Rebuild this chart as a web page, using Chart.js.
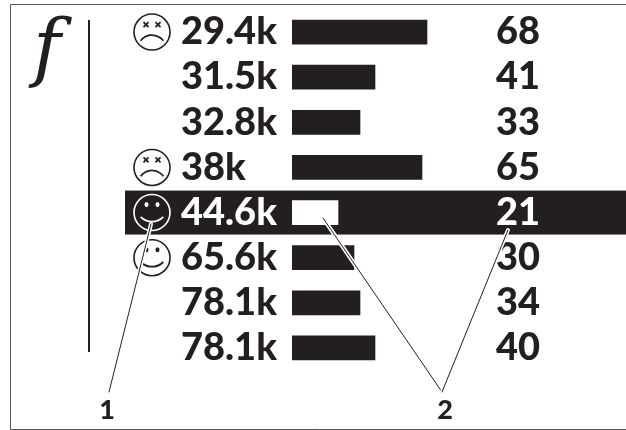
<!DOCTYPE html>
<html>
<head>
<meta charset="utf-8">
<style>
html, body { margin: 0; padding: 0; background: #fff; }
#wrap { position: relative; width: 626px; height: 430px; }
canvas { display: block; }
</style>
<script src="https://cdn.jsdelivr.net/npm/chart.js@4"></script>
</head>
<body>
<div id="wrap"><canvas id="mycanvas" width="626" height="430"></canvas></div>
<script>
var sizes = ['29.4k', '31.5k', '32.8k', '38k', '44.6k', '65.6k', '78.1k', '78.1k'];
var scores = ['68', '41', '33', '65', '21', '30', '34', '40'];
// bar lengths, they are a bit off the printed scores
var bars = [67.5, 41.5, 34, 65, 23, 31, 34, 41.5];
var faces = ['sad', '', '', 'sad', 'happy', 'happy', '', ''];
var selected = 4;
var ink = '#231f20';
var font = 'Lato, sans-serif';

function face(ctx, kind, x, y, light) {
	var fg = light ? '#fff' : ink;
	ctx.save();
	ctx.strokeStyle = fg;
	ctx.fillStyle = fg;
	ctx.lineWidth = 1.6;
	ctx.beginPath();
	ctx.arc(x, y, 18, 0, Math.PI * 2);
	ctx.stroke();
	if (kind === 'sad') {
		ctx.lineWidth = 1.8;
		[-6, 6].forEach(function (dx) {
			ctx.beginPath();
			ctx.moveTo(x + dx - 2.5, y - 10);
			ctx.lineTo(x + dx + 2.5, y - 5);
			ctx.moveTo(x + dx + 2.5, y - 10);
			ctx.lineTo(x + dx - 2.5, y - 5);
			ctx.stroke();
		});
		ctx.lineWidth = 1.8;
		ctx.beginPath();
		ctx.arc(x, y + 17, 14, Math.PI * 1.2, Math.PI * 1.8);
		ctx.stroke();
	} else {
		[-5.5, 5.5].forEach(function (dx) {
			ctx.beginPath();
			ctx.ellipse(x + dx, y - 8, 2, 2.5, 0, 0, Math.PI * 2);
			ctx.fill();
		});
		ctx.lineWidth = 1.8;
		ctx.beginPath();
		ctx.arc(x, y - 7, 16, Math.PI * 0.25, Math.PI * 0.75);
		ctx.stroke();
	}
	ctx.restore();
}

function leader(ctx, x1, y1, x2, y2) {
	ctx.save();
	ctx.lineCap = 'round';
	ctx.strokeStyle = '#fff';
	ctx.lineWidth = 4;
	ctx.beginPath();
	ctx.moveTo(x1, y1);
	ctx.lineTo(x2, y2);
	ctx.stroke();
	ctx.strokeStyle = ink;
	ctx.lineWidth = 1;
	ctx.beginPath();
	ctx.moveTo(x1, y1);
	ctx.lineTo(x2, y2);
	ctx.stroke();
	ctx.restore();
}

var rowBand = {
	id: 'rowBand',
	beforeDraw: function (chart) {
		var c = chart.ctx;
		var mid = chart.scales.y.getPixelForValue(selected);
		c.save();
		c.fillStyle = ink;
		c.fillRect(125, mid - 22, chart.width - 125, 44);
		c.restore();
	}
};

var extras = {
	id: 'extras',
	afterDraw: function (chart) {
		var c = chart.ctx;
		var y = chart.scales.y;
		c.save();
		// frame
		c.strokeStyle = '#555';
		c.lineWidth = 1;
		c.beginPath();
		c.moveTo(chart.width, 4.5);
		c.lineTo(10.5, 4.5);
		c.lineTo(10.5, 429.5);
		c.lineTo(chart.width, 429.5);
		c.stroke();
		// f and rule
		c.fillStyle = ink;
		c.fillRect(88, 20, 2, 332);
		c.font = '75px "DejaVu Math TeX Gyre", "DejaVu Serif"';
		c.textAlign = 'left';
		c.textBaseline = 'alphabetic';
		c.fillText('\uD835\uDC53', 22.5, 72);
		faces.forEach(function (kind, i) {
			if (kind) face(c, kind, 152, y.getPixelForValue(i), i === selected);
		});
		leader(c, 109, 392, 151, 224);
		leader(c, 442, 392, 323, 218);
		leader(c, 442, 392, 508, 230);
		c.fillStyle = ink;
		c.font = '900 27px ' + font;
		c.textAlign = 'center';
		c.textBaseline = 'middle';
		c.fillText('1', 107, 410);
		c.fillText('2', 445, 410);
		c.restore();
	}
};

function tickColor(ctx) {
	return ctx.index === selected ? '#fff' : ink;
}

var tickFont = { family: font, size: 38, weight: 900, lineHeight: 0.5 };

var ctx1 = document.getElementById('mycanvas');
var myChart = new Chart(ctx1, {
	type: 'bar',
	plugins: [rowBand, extras],
	data: {
		labels: sizes,
		datasets: [{
			data: bars,
			yAxisID: 'y',
			barThickness: 24,
			backgroundColor: bars.map(function (v, i) { return i === selected ? '#fff' : ink; })
		}]
	},
	options: {
		indexAxis: 'y',
		responsive: false,
		animation: false,
		layout: { padding: { left: 181, top: 9.5, bottom: 59.5, right: 0 } },
		plugins: { legend: { display: false }, tooltip: { enabled: false } },
		scales: {
			x: { display: false, min: 0, max: 102 },
			y: {
				position: 'left',
				afterFit: function (s) { s.width = 111; },
				grid: { display: false, drawTicks: false },
				border: { display: false },
				ticks: { color: tickColor, padding: 0, crossAlign: 'far', autoSkip: false, font: tickFont }
			},
			y2: {
				type: 'category',
				labels: scores,
				position: 'right',
				offset: true,
				afterFit: function (s) { s.width = 130; },
				grid: { display: false, drawTicks: false },
				border: { display: false },
				ticks: { color: tickColor, padding: 0, crossAlign: 'near', autoSkip: false, font: tickFont }
			}
		}
	}
});
</script>
</body>
</html>
